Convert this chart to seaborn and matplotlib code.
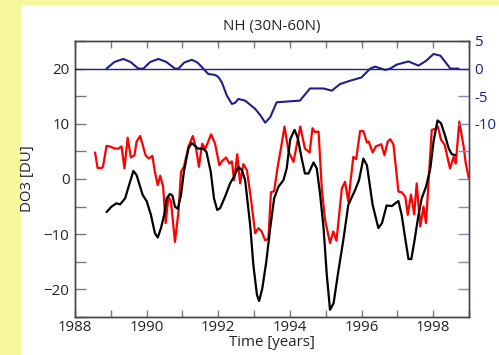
import numpy as np
import pandas as pd
import matplotlib
matplotlib.use("Agg")
import matplotlib.pyplot as plt
from matplotlib.ticker import MultipleLocator, FixedLocator
import seaborn as sns

title = "NH (30N-60N)"
xlabel = "Time [years]"
ylabel = "DO3 [DU]"

# Blue series (right axis)
t_blue = [1988.88, 1989.1, 1989.35, 1989.55, 1989.77, 1989.91, 1990.1, 1990.33, 1990.55, 1990.79,
          1990.89, 1991.05, 1991.26, 1991.42, 1991.58, 1991.72, 1991.91, 1992.0, 1992.1, 1992.24,
          1992.38, 1992.47, 1992.56, 1992.75, 1993.03, 1993.18, 1993.31, 1993.45, 1993.63, 1994.28,
          1994.56, 1994.94, 1995.17, 1995.4, 1995.68, 1996.0, 1996.24, 1996.38, 1996.66, 1996.8,
          1996.98, 1997.31, 1997.59, 1997.8, 1998.01, 1998.2, 1998.48, 1998.71]
v_blue = [0, 1.2, 1.75, 1.2, 0, 0, 1.2, 1.75, 1.2, 0,
          0, 1.1, 1.6, 1.1, 0, -0.97, -1.15, -1.5, -2.5, -4.9,
          -6.4, -6.2, -5.5, -5.8, -7.3, -8.5, -9.8, -8.8, -6.1, -5.8,
          -3.6, -3.6, -4.0, -2.8, -2.2, -1.6, 0, 0.36, -0.24, 0,
          0.72, 1.3, 0.54, 1.4, 2.65, 2.35, 0, 0]

# Red series (left axis)
t_red = [1988.56, 1988.63, 1988.74, 1988.78, 1988.88, 1988.97, 1989.12, 1989.21, 1989.30, 1989.38,
         1989.47, 1989.56, 1989.66, 1989.72, 1989.82, 1989.97, 1990.06, 1990.16, 1990.23, 1990.31,
         1990.38, 1990.46, 1990.53, 1990.61, 1990.68, 1990.79, 1990.89, 1990.96, 1991.04, 1991.17,
         1991.29, 1991.38, 1991.46, 1991.55, 1991.64, 1991.80, 1991.91, 1992.03, 1992.10, 1992.22,
         1992.31, 1992.38, 1992.44, 1992.53, 1992.61, 1992.70, 1992.80, 1992.91, 1993.03, 1993.12,
         1993.21, 1993.31, 1993.40, 1993.47, 1993.56, 1993.65, 1993.75, 1993.85, 1993.96, 1994.10,
         1994.29, 1994.42, 1994.55, 1994.63, 1994.70, 1994.80, 1994.89, 1994.98, 1995.12, 1995.21,
         1995.30, 1995.45, 1995.54, 1995.63, 1995.77, 1995.85, 1995.96, 1996.05, 1996.15, 1996.20,
         1996.31, 1996.40, 1996.55, 1996.64, 1996.73, 1996.80, 1996.89, 1997.03, 1997.12, 1997.22,
         1997.29, 1997.38, 1997.47, 1997.54, 1997.64, 1997.73, 1997.80, 1997.96, 1998.06, 1998.13,
         1998.22, 1998.32, 1998.47, 1998.57, 1998.63, 1998.73, 1998.85, 1998.91, 1999.00]
v_red = [4.8, 2.0, 2.0, 2.2, 6.0, 5.9, 5.5, 5.5, 5.9, 1.9,
         7.5, 3.9, 4.3, 6.8, 7.8, 4.3, 3.7, 4.2, 1.3, -1.1,
         0.6, -1.4, -8.0, -3.2, -4.1, -11.4, -5.9, 1.3, 2.2, 5.9,
         7.8, 5.5, 2.2, 6.4, 5.5, 8.1, 6.4, 2.5, 3.2, 3.9,
         2.8, 3.2, -0.2, 4.5, -0.8, 2.7, 1.6, -3.5, -9.8, -8.9,
         -9.5, -11.1, -10.8, -2.4, -2.2, 1.9, 5.6, 9.5, 5.0, 3.1,
         9.5, 5.5, 4.8, 9.2, 8.5, 8.6, -1.7, -7.4, -11.6, -9.5,
         -11.2, -1.7, -0.5, -4.1, 4.0, 3.6, 8.7, 8.7, 6.6, 6.8,
         4.8, 5.9, 6.3, 4.3, 6.8, 7.2, 6.3, -2.3, -2.4, -3.2,
         -6.5, -2.8, -6.4, -0.8, -8.6, -5.0, -8.0, 8.9, 9.1, 9.5,
         7.1, 6.2, 1.9, 4.0, 2.8, 10.4, 5.9, 2.8, 0.0]

# Black series (left axis)
t_black = [1988.88, 1989.02, 1989.16, 1989.26, 1989.40, 1989.51, 1989.63, 1989.72, 1989.89, 1990.00,
           1990.12, 1990.23, 1990.31, 1990.40, 1990.49, 1990.56, 1990.65, 1990.72, 1990.79, 1990.87,
           1990.96, 1991.04, 1991.17, 1991.26, 1991.44, 1991.58, 1991.67, 1991.79, 1991.88, 1991.97,
           1992.05, 1992.19, 1992.33, 1992.44, 1992.56, 1992.66, 1992.75, 1992.89, 1992.98, 1993.08,
           1993.14, 1993.23, 1993.34, 1993.45, 1993.56, 1993.68, 1993.82, 1993.91, 1994.01, 1994.13,
           1994.22, 1994.33, 1994.42, 1994.52, 1994.66, 1994.75, 1994.84, 1994.94, 1995.03, 1995.12,
           1995.22, 1995.35, 1995.49, 1995.63, 1995.82, 1995.93, 1996.05, 1996.15, 1996.31, 1996.47,
           1996.57, 1996.70, 1996.85, 1996.94, 1997.03, 1997.12, 1997.22, 1997.31, 1997.39, 1997.48,
           1997.59, 1997.68, 1997.80, 1997.92, 1998.01, 1998.12, 1998.22, 1998.34, 1998.43, 1998.52,
           1998.62]
v_black = [-6.0, -5.0, -4.4, -4.6, -3.5, -1.1, 1.45, 0.7, -2.9, -4.0,
           -6.5, -9.8, -10.6, -8.9, -6.5, -3.5, -2.7, -3.0, -5.0, -5.4,
           -2.9, 1.3, 5.6, 6.5, 5.5, 5.5, 4.9, 1.3, -3.5, -5.6,
           -5.3, -3.2, -0.8, 0.4, 2.2, 1.6, -0.2, -8.3, -15.6, -21.0,
           -22.1, -19.8, -15.0, -8.9, -3.5, -1.4, -0.2, 1.9, 7.2, 8.9,
           7.4, 3.7, 1.0, 1.0, 3.0, 1.9, -2.6, -8.9, -17.4, -23.7,
           -22.5, -16.8, -11.1, -4.7, -2.0, -0.2, 3.7, 2.5, -4.7, -8.9,
           -8.0, -4.8, -4.9, -4.4, -4.0, -6.5, -10.8, -14.5, -14.5, -11.1,
           -6.5, -3.5, -1.4, 1.9, 6.8, 10.6, 10.1, 7.7, 5.6, 4.5,
           4.3]

x_major = [1988, 1990, 1992, 1994, 1996, 1998]
left_ticks = [-20, -10, 0, 10, 20]
right_labels = [5, 0, -5, -10]

sns.set_style("ticks")
plt.rcParams["font.family"] = ["Open Sans", "DejaVu Sans"]

W, H = 499, 355
fig = plt.figure(figsize=(W / 100, H / 100), dpi=100)
fig.patch.set_facecolor("#f7f79e")

# white slide panel behind the chart
bg = fig.add_axes([21 / W, 0, 1 - 21 / W, (H - 5) / H], zorder=-10)
bg.set_facecolor("white")
bg.set_xticks([])
bg.set_yticks([])
for s in bg.spines.values():
    s.set_visible(False)

ax = fig.add_axes([75 / W, (H - 317) / H, (469 - 75) / W, (317 - 41) / H])
ax.set_facecolor("none")

df_red = pd.DataFrame({"t": t_red, "v": v_red})
df_black = pd.DataFrame({"t": t_black, "v": v_black})
df_blue = pd.DataFrame({"t": t_blue, "v": v_blue})

sns.lineplot(data=df_red, x="t", y="v", ax=ax, color="#ff0000", linewidth=1.6,
             estimator=None, sort=False, zorder=3)
sns.lineplot(data=df_black, x="t", y="v", ax=ax, color="black", linewidth=1.6,
             estimator=None, sort=False, zorder=4)

ax.set_xlim(1988, 1999)
ax.set_ylim(-25, 25)
ax.xaxis.set_major_locator(FixedLocator(x_major))
ax.xaxis.set_minor_locator(MultipleLocator(1))
ax.yaxis.set_major_locator(FixedLocator(left_ticks))
ax.yaxis.set_minor_locator(MultipleLocator(5))
ax.tick_params(axis="both", which="both", direction="in", color="#777777", width=1.0,
               labelsize=10.8, labelcolor="#222222")
ax.tick_params(axis="y", which="both", length=8, pad=4)
ax.tick_params(axis="x", which="both", length=5, top=True, pad=2)
ax.set_xlabel(xlabel, fontsize=10.8, labelpad=0.5, color="#222222")
ax.set_ylabel(ylabel, fontsize=10.8, labelpad=6, color="#222222")
ax.set_title(title, fontsize=10.8, pad=8, color="#222222")
for s in ax.spines.values():
    s.set_color("#444444")
    s.set_linewidth(1.0)

ax2 = ax.twinx()
sns.lineplot(data=df_blue, x="t", y="v", ax=ax2, color="#1e1e8c", linewidth=1.5,
             estimator=None, sort=False, zorder=5)
ax2.axhline(0, color="#1e1e8c", linewidth=1.0, zorder=4)
ax2.set_xlim(1988, 1999)
right_ticks = list(range(-40, 6, 5))
ax2.set_yticks(right_ticks)
ax2.set_yticklabels([str(t) if t in right_labels else "" for t in right_ticks])
ax2.set_ylim(-45, 5)
ax2.tick_params(axis="y", direction="in", length=8, color="#8888bb", width=1.0,
                labelsize=10.8, labelcolor="#1e1e8c", pad=4)
ax2.set_ylabel("")
ax2.set_xlabel("")
for s in ax2.spines.values():
    s.set_color("#444444")
    s.set_linewidth(1.0)

fig.savefig("out.png", dpi=100, facecolor=fig.get_facecolor())
